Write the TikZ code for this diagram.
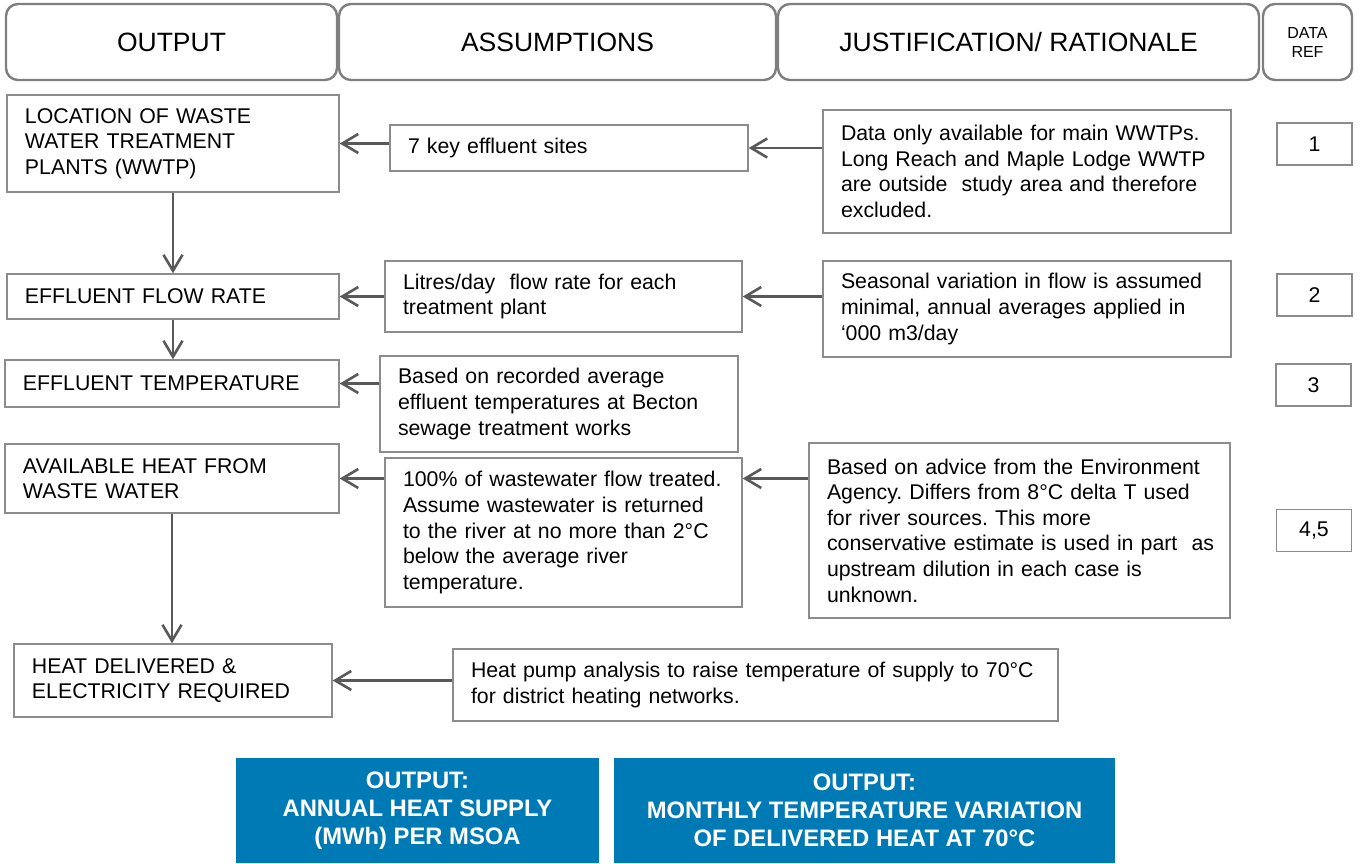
\documentclass[tikz,border=0pt]{standalone}
\usepackage{fontspec}
\setmainfont{Liberation Sans}
\usetikzlibrary{arrows.meta}
\frenchspacing
\definecolor{rimgray}{HTML}{7F7F7F}
\definecolor{boxgray}{HTML}{8C8C8C}
\definecolor{arrowgray}{HTML}{595959}
\definecolor{outblue}{RGB}{0,122,180}
\tikzset{
  head/.style={draw=rimgray, line width=1.2pt, rounded corners=6pt, minimum height=38pt,
    inner sep=0pt, align=center, font=\fontsize{13.25}{15}\selectfont},
  cell/.style={draw=boxgray, line width=0.7pt, inner xsep=9pt, inner ysep=1pt, align=left,
    font=\fontsize{10.65}{12.8}\selectfont},
  ref/.style={draw=boxgray, line width=0.7pt, minimum width=37.5pt, minimum height=21pt,
    inner sep=0pt, font=\fontsize{10.65}{12.8}\selectfont},
  result/.style={fill=outblue, text=white, minimum height=52.5pt, inner sep=0pt, align=center,
    font=\bfseries\fontsize{11.9}{14}\selectfont},
  feed/.style={draw=arrowgray, line width=1.3pt, -{Straight Barb[length=8pt, width=9.5pt]}}
}
\begin{document}
\begin{tikzpicture}[x=0.5pt, y=-0.5pt]
  \useasboundingbox (0,0) rectangle (1360,863);

  \node[head, minimum width=165.5pt] (hout) at (171.5,42) {OUTPUT};
  \node[head, minimum width=218.5pt] (hass) at (557.5,42) {ASSUMPTIONS};
  \node[head, minimum width=240.5pt] (hjus) at (1018.5,42) {JUSTIFICATION/ RATIONALE};
  \node[head, minimum width=44.5pt, font=\fontsize{8}{9.5}\selectfont] (href) at (1307.5,42) {DATA\\REF};

  \node[cell, text width=148pt, minimum height=48.5pt] (l1) at (173,143.5)
    {LOCATION OF WASTE\\WATER TREATMENT\\PLANTS (WWTP)};
  \node[cell, text width=148pt, minimum height=22.5pt] (l2) at (173,296.5) {EFFLUENT FLOW RATE};
  \node[cell, text width=149pt, minimum height=23.5pt] (l3) at (172,383.5) {EFFLUENT TEMPERATURE};
  \node[cell, text width=149pt, minimum height=34.5pt] (l4) at (172,478.5)
    {AVAILABLE HEAT FROM\\WASTE WATER};
  \node[cell, text width=141pt, minimum height=36.5pt] (l5) at (173,680.5)
    {HEAT DELIVERED \&\\ELECTRICITY REQUIRED};

  \node[cell, text width=161pt, minimum height=23pt] (m1) at (569,148) {7 key effluent sites};
  \node[cell, text width=160.5pt, minimum height=35.5pt] (m2) at (563.5,296.5)
    {Litres/day\ \ flow rate for each\\treatment plant};
  \node[cell, text width=161pt, minimum height=48pt] (m3) at (559,404)
    {Based on recorded average\\effluent temperatures at Becton\\sewage treatment works};
  \node[cell, text width=160.5pt, minimum height=74.5pt] (m4) at (563.5,532.5)
    {100\% of wastewater flow treated.\\Assume wastewater is returned\\to the river at no more than 2°C\\below the average river\\temperature.};
  \node[cell, text width=284.5pt, minimum height=36pt] (m5) at (755.5,685)
    {Heat pump analysis to raise temperature of supply to 70°C\\for district heating networks.};

  \node[cell, text width=186pt, minimum height=61.5pt] (r1) at (1027,171.5)
    {Data only available for main WWTPs.\\Long Reach and Maple Lodge WWTP\\are outside\ \ study area and therefore\\excluded.};
  \node[cell, text width=186pt, minimum height=48pt] (r2) at (1027,309)
    {Seasonal variation in flow is assumed\\minimal, annual averages applied in\\‘000 m3/day};
  \node[cell, text width=192.5pt, minimum height=87.5pt] (r4) at (1019.5,530.5)
    {Based on advice from the Environment\\Agency. Differs from 8°C delta T used\\for river sources. This more\\\mbox{conservative estimate is used in part\ \ as}\\upstream dilution in each case is\\unknown.};

  \node[ref] (d1) at (1314.5,144) {1};
  \node[ref] (d2) at (1314.5,295) {2};
  \node[ref] (d3) at (1313.5,385) {3};
  \node[ref] (d4) at (1314,530.5) {4,5};

  \node[result, minimum width=181.5pt] (annual) at (417.5,810.5)
    {OUTPUT:\\ANNUAL HEAT SUPPLY\\(MWh) PER MSOA};
  \node[result, minimum width=250.5pt] (monthly) at (864.5,810.5)
    {OUTPUT:\\MONTHLY TEMPERATURE VARIATION\\OF DELIVERED HEAT AT 70°C};

  \draw[feed] (m1.west |- l1.east) -- (l1.east);
  \draw[feed] (r1.west |- m1.east) -- (m1.east);
  \draw[feed] (m2.west) -- (m2.west -| l2.east);
  \draw[feed] (r2.west |- m2.east) -- (m2.east);
  \draw[feed] (m3.west |- l3.east) -- (l3.east);
  \draw[feed] (m4.west |- l4.east) -- (l4.east);
  \draw[feed] (r4.west |- l4.east) -- (m4.east |- l4.east);
  \draw[feed] (m5.west |- l5.east) -- (l5.east);
  \draw[feed] (l1.south) -- (l2.north);
  \draw[feed] (l2.south) -- (l2.south |- l3.north);
  \draw[feed] (l4.south) -- (l4.south |- l5.north);
\end{tikzpicture}
\end{document}
